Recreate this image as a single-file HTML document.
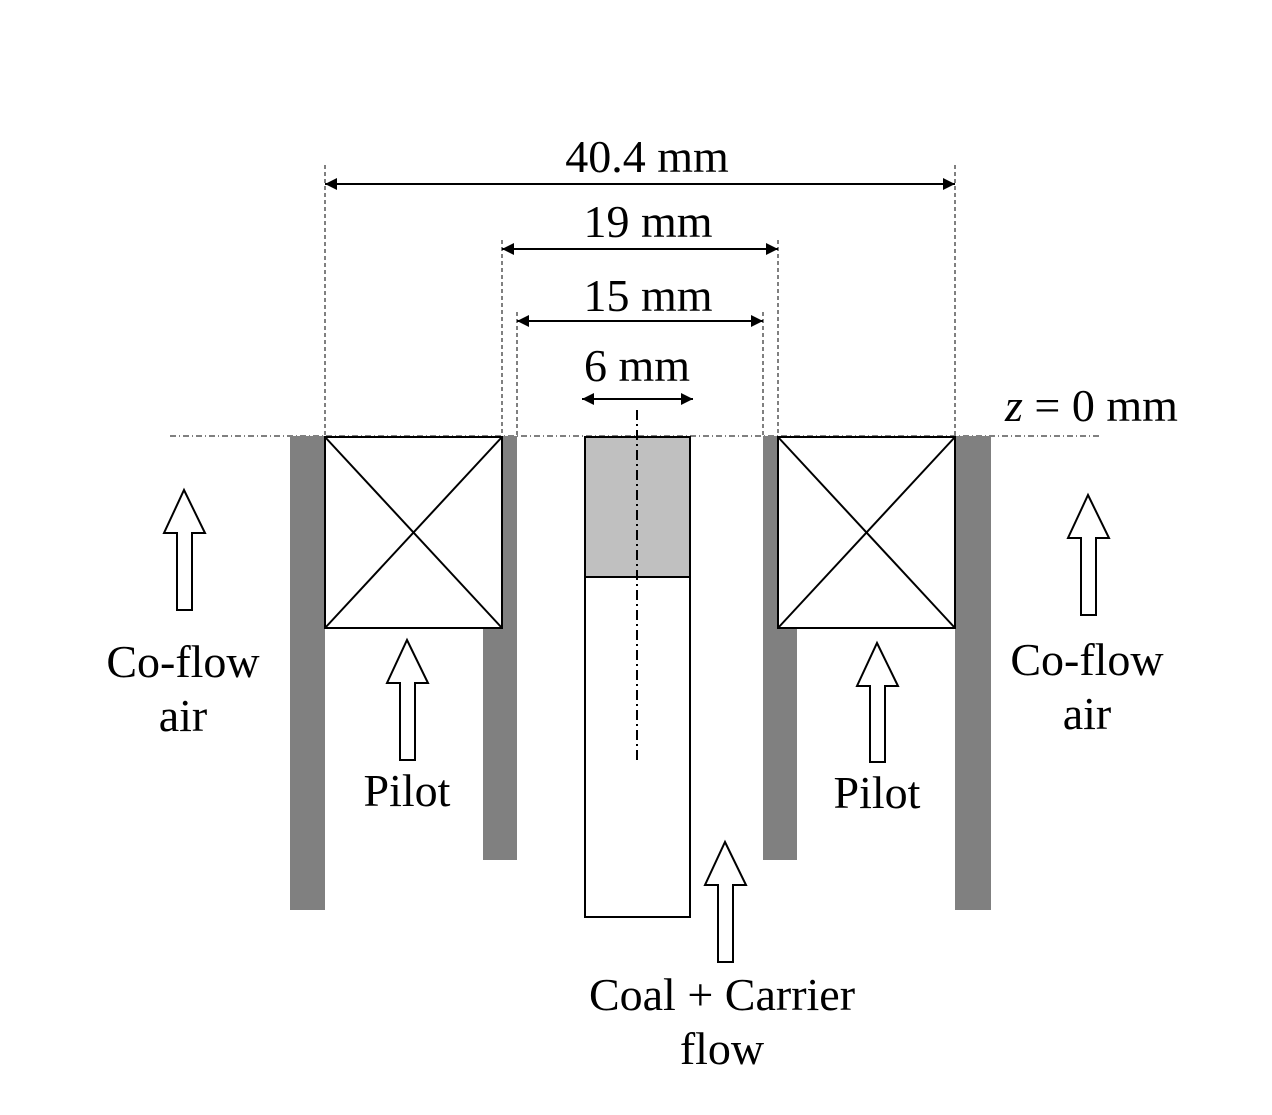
<!DOCTYPE html>
<html><head><style>body{margin:0;background:#fff}svg{display:block}text{font-family:"Liberation Serif",serif;font-size:46px;fill:#000}</style></head>
<body>
<svg width="1272" height="1115" viewBox="0 0 1272 1115" xmlns="http://www.w3.org/2000/svg">
<defs>
<marker id="a" viewBox="0 0 10 10" refX="10" refY="5" markerWidth="16" markerHeight="12" markerUnits="userSpaceOnUse" orient="auto-start-reverse"><path d="M0,0L10,5L0,10z" fill="#000"/></marker>
</defs>
<g stroke="#000" stroke-width="1" stroke-dasharray="4,3" fill="none">
<line x1="325" y1="165" x2="325" y2="436"/><line x1="955" y1="165" x2="955" y2="436"/>
<line x1="502" y1="240" x2="502" y2="436"/><line x1="778" y1="240" x2="778" y2="436"/>
<line x1="517" y1="312" x2="517" y2="436"/><line x1="763" y1="312" x2="763" y2="436"/>
</g>
<line x1="170" y1="436" x2="1100" y2="436" stroke="#000" stroke-width="1" stroke-dasharray="6,3,1,3"/>
<g stroke="#000" stroke-width="2" marker-start="url(#a)" marker-end="url(#a)">
<line x1="325" y1="184" x2="955" y2="184"/>
<line x1="502" y1="249" x2="778" y2="249"/>
<line x1="517" y1="321" x2="763" y2="321"/>
<line x1="582" y1="399" x2="693" y2="399"/>
</g>
<g fill="#808080">
<rect x="290" y="436" width="35" height="474"/>
<rect x="502" y="436" width="15" height="192"/><rect x="483" y="628" width="34" height="232"/>
<rect x="763" y="436" width="15" height="192"/><rect x="763" y="628" width="34" height="232"/>
<rect x="955" y="436" width="36" height="474"/>
</g>
<g stroke="#000" stroke-width="2" fill="#fff">
<rect x="325" y="437" width="177" height="191"/>
<line x1="325" y1="437" x2="502" y2="628"/><line x1="502" y1="437" x2="325" y2="628"/>
<rect x="778" y="437" width="177" height="191"/>
<line x1="778" y1="437" x2="955" y2="628"/><line x1="955" y1="437" x2="778" y2="628"/>
<rect x="585" y="577" width="105" height="340"/>
<rect x="585" y="437" width="105" height="140" fill="#c0c0c0"/>
</g>
<line x1="637" y1="410" x2="637" y2="760" stroke="#000" stroke-width="2" stroke-dasharray="10,4,2,4"/>
<g stroke="#000" stroke-width="2" fill="#fff">
<path d="M184,490L205,533H192V610H177V533H164Z"/>
<path d="M407,640L428,683H415V760H400V683H387Z"/>
<path d="M877,643L898,686H885V762H870V686H857Z"/>
<path d="M1088,495L1109,538H1096V615H1081V538H1068Z"/>
<path d="M725,842L746,885H733V962H718V885H705Z"/>
</g>
<g text-anchor="middle">
<text x="647" y="172">40.4 mm</text>
<text x="648" y="237">19 mm</text>
<text x="648" y="311">15 mm</text>
<text x="637" y="381">6 mm</text>
<text x="183" y="677">Co-flow</text><text x="183" y="731">air</text>
<text x="1087" y="675">Co-flow</text><text x="1087" y="729">air</text>
<text x="407" y="806">Pilot</text><text x="877" y="808">Pilot</text>
<text x="722" y="1010">Coal + Carrier</text><text x="722" y="1064">flow</text>
</g>
<text x="1005" y="421"><tspan font-style="italic">z</tspan> = 0 mm</text>
</svg>
</body></html>
